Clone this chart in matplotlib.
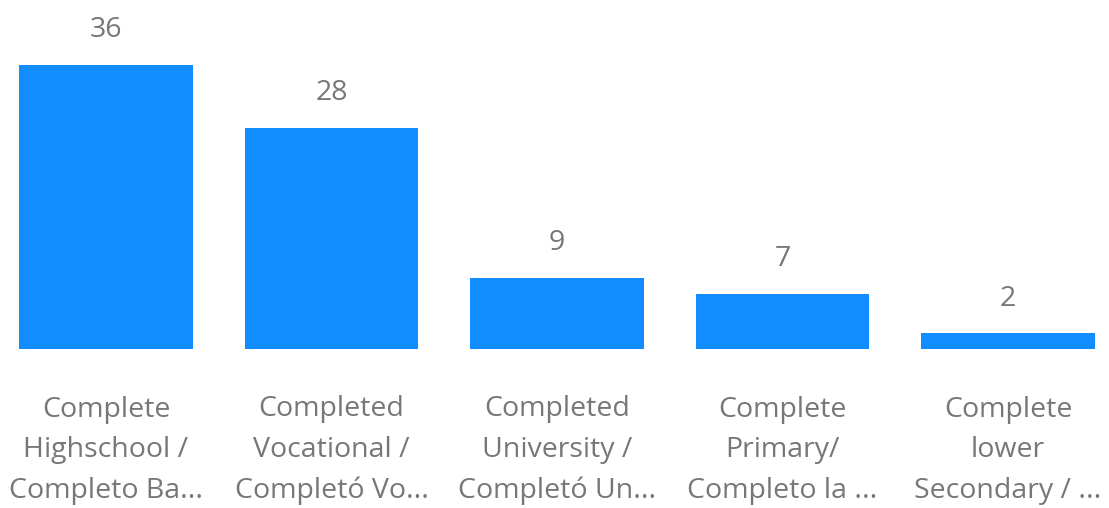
import matplotlib
matplotlib.use("Agg")
import matplotlib.pyplot as plt
import numpy as np

# Education level counts
categories = [
    "Complete\nHighschool /\nCompleto Ba...",
    "Completed\nVocational /\nCompletó Vo...",
    "Completed\nUniversity /\nCompletó Un...",
    "Complete\nPrimary/\nCompleto la ...",
    "Complete\nlower\nSecondary / ...",
]
counts = [36, 28, 9, 7, 2]

bar_color = "#118DFF"
text_color = "#777777"

plt.rcParams['font.family'] = ['Open Sans', 'DejaVu Sans']

fig = plt.figure(figsize=(11.09, 5.08), dpi=100)
ax = fig.add_axes([0, 159 / 508, 1, 349 / 508])

x = np.arange(len(counts))
bars = ax.bar(x, counts, width=0.77, color=bar_color)

ax.set_xlim(-0.470, 4.448)
ax.set_ylim(0, 36 * 349 / 284)
ax.axis('off')

# value labels above bars
for xi, v in zip(x, counts):
    ax.annotate(str(v), xy=(xi, v), xytext=(0, 25), textcoords='offset points',
                ha='center', va='center', fontsize=20.5, color=text_color,
                annotation_clip=False)

# category labels under the bars
for xi, lab in zip(x, categories):
    ax.annotate(lab, xy=(xi, 0), xycoords=('data', 'axes fraction'),
                xytext=(0, -73), textcoords='offset points',
                ha='center', va='center', fontsize=20.5, color=text_color,
                linespacing=1.6, annotation_clip=False)

fig.savefig("out.png", dpi=100)
